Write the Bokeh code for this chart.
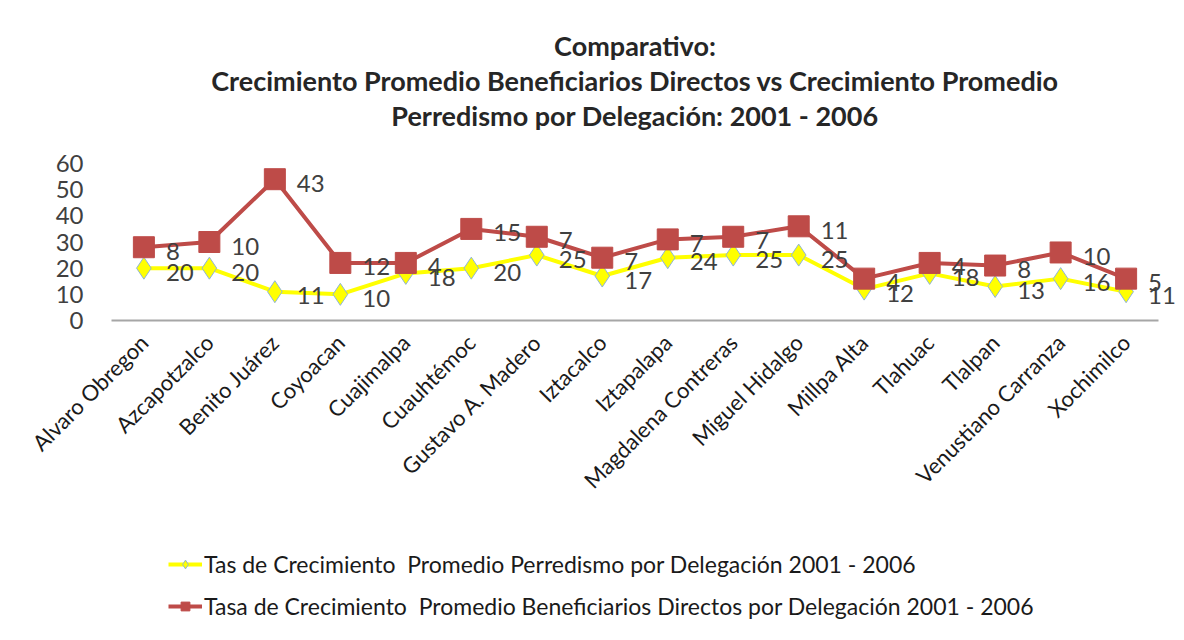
import math
from bokeh.plotting import figure
from bokeh.layouts import column
from bokeh.models import FactorRange, Range1d, Title, Legend, LegendItem, ColumnDataSource
from bokeh.core.properties import value
from bokeh.embed import file_html
from bokeh.resources import INLINE

categories = ["Alvaro Obregon", "Azcapotzalco", "Benito Juárez", "Coyoacan", "Cuajimalpa",
              "Cuauhtémoc", "Gustavo A. Madero", "Iztacalco", "Iztapalapa", "Magdalena Contreras",
              "Miguel Hidalgo", "Millpa Alta", "Tlahuac", "Tlalpan", "Venustiano Carranza", "Xochimilco"]
perredismo = [20, 20, 11, 10, 18, 20, 25, 17, 24, 25, 25, 12, 18, 13, 16, 11]
beneficiarios = [8, 10, 43, 12, 4, 15, 7, 7, 7, 7, 11, 4, 4, 8, 10, 5]
y_ticks = [0, 10, 20, 30, 40, 50, 60]

title_lines = ["Comparativo:",
               "Crecimiento Promedio Beneficiarios Directos vs Crecimiento Promedio",
               "Perredismo por Delegación: 2001 - 2006"]
legend_labels = ["Tas de Crecimiento  Promedio Perredismo por Delegación 2001 - 2006",
                 "Tasa de Crecimiento  Promedio Beneficiarios Directos por Delegación 2001 - 2006"]

# stacked line chart: second series is drawn on top of the first
stacked = [a + b for a, b in zip(perredismo, beneficiarios)]

src = ColumnDataSource(dict(
    cat=categories,
    y1=perredismo,
    y2=stacked,
    t1=[str(v) for v in perredismo],
    t2=[str(v) for v in beneficiarios],
))

FONT = "Lato"
RED = "#BE4B48"
YEL = "#FFFF00"
DIAMOND_EDGE = "#8EB4D8"

xr = FactorRange(*categories, range_padding=0.3, range_padding_units="absolute")
p = figure(frame_width=1087, frame_height=157, x_range=xr, y_range=Range1d(0, 60),
           output_backend="svg", toolbar_location=None, title=None,
           min_border_left=91, min_border_right=6, min_border_top=163, min_border_bottom=200)
p.outline_line_color = None
p.grid.grid_line_color = None
p.background_fill_color = "white"
p.border_fill_color = "white"

# spacer between plot and title block
p.add_layout(Title(text=" ", text_font_size="1px", standoff=29), "above")
for line in reversed(title_lines):
    t = Title(text=line, align="center", text_font=FONT, text_font_size="27px",
              text_font_style="bold", text_color="#262626", standoff=0)
    p.add_layout(t, "above")

# y axis
p.yaxis.ticker = y_ticks
p.yaxis.axis_line_color = None
p.yaxis.major_tick_line_color = None
p.yaxis.minor_tick_line_color = None
p.yaxis.major_label_text_font = FONT
p.yaxis.major_label_text_font_size = "24px"
p.yaxis.major_label_text_color = "#404040"
p.yaxis.major_label_standoff = 2

# x axis
p.xaxis.bounds = (0, len(categories))
p.xaxis.axis_line_color = "#A6A6A6"
p.xaxis.axis_line_width = 2
p.xaxis.major_tick_line_color = None
p.xaxis.minor_tick_line_color = None
p.xaxis.major_label_orientation = math.pi / 4
p.xaxis.major_label_text_font = FONT
p.xaxis.major_label_text_font_size = "22px"
p.xaxis.major_label_text_color = "#1a1a1a"
p.xaxis.major_label_standoff = 12

p.line("cat", "y1", source=src, line_color=YEL, line_width=4)
p.scatter("cat", "y1", source=src, marker="diamond", size=22, fill_color=YEL,
          line_color=DIAMOND_EDGE, line_width=1)
p.line("cat", "y2", source=src, line_color=RED, line_width=4)
p.scatter("cat", "y2", source=src, marker="square", size=21, fill_color=RED,
          line_color=RED, line_width=1)

p.text("cat", "y1", text="t1", source=src, x_offset=22, y_offset=4, text_align="left",
       text_baseline="middle", text_font=value(FONT), text_font_size="24px", text_color="#404040")
p.text("cat", "y2", text="t2", source=src, x_offset=22, y_offset=4, text_align="left",
       text_baseline="middle", text_font=value(FONT), text_font_size="24px", text_color="#404040")

# legend area (separate strip below the chart)
q = figure(width=1184, height=120, x_range=Range1d(0, 1), y_range=Range1d(0, 1),
           output_backend="svg", toolbar_location=None, title=None,
           min_border=0)
q.outline_line_color = None
q.axis.visible = False
q.grid.grid_line_color = None
q.background_fill_color = "white"
q.border_fill_color = "white"
offscreen = ColumnDataSource(dict(x=[5, 6], y=[5, 6]))
ql1 = q.line("x", "y", source=offscreen, line_color=YEL, line_width=4)
qm1 = q.scatter("x", "y", source=offscreen, marker="diamond", size=12, fill_color=YEL,
                line_color=DIAMOND_EDGE, line_width=1)
ql2 = q.line("x", "y", source=offscreen, line_color=RED, line_width=4)
qm2 = q.scatter("x", "y", source=offscreen, marker="square", size=13, fill_color=RED,
                line_color=RED, line_width=1)

legend = Legend(items=[LegendItem(label=legend_labels[0], renderers=[ql1, qm1]),
                       LegendItem(label=legend_labels[1], renderers=[ql2, qm2])],
                location=(77, 20), orientation="vertical")
legend.label_text_font = FONT
legend.label_text_font_size = "23px"
legend.label_text_color = "#1a1a1a"
legend.border_line_color = None
legend.background_fill_alpha = 0
legend.glyph_width = 34
legend.glyph_height = 22
legend.label_standoff = 2
legend.spacing = 14
legend.margin = 0
legend.padding = 10
q.add_layout(legend)

layout = column(p, q, spacing=0)
open("out.html", "w").write(file_html(layout, INLINE))
